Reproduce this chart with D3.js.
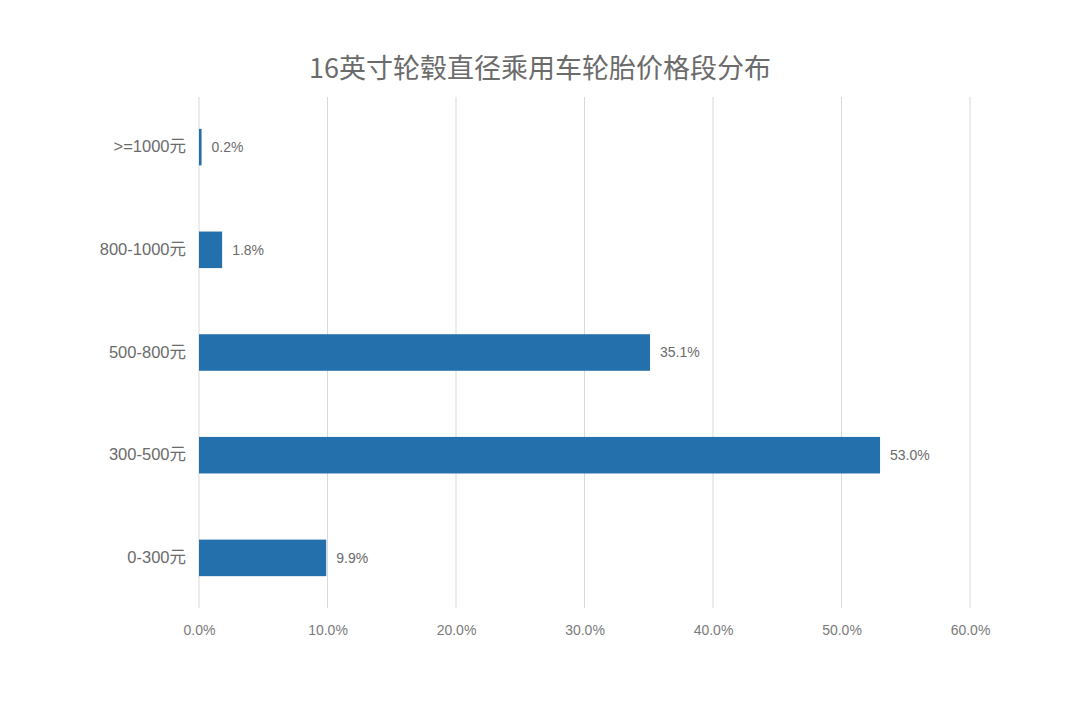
<!DOCTYPE html>
<html>
<head>
<meta charset="utf-8">
<script src="https://cdn.jsdelivr.net/npm/d3@7"></script>
<style>
  body { margin: 0; background: #fff; }
  text { font-family: "Liberation Sans", "Noto Sans CJK SC", sans-serif; }
</style>
</head>
<body>
<svg id="chart"></svg>
<script>
const categories = [">=1000元", "800-1000元", "500-800元", "300-500元", "0-300元"];
const shares = [0.2, 1.8, 35.1, 53.0, 9.9];
const tickValues = [0, 10, 20, 30, 40, 50, 60];
const title = "16英寸轮毂直径乘用车轮胎价格段分布";

const W = 1080, H = 704;
const margin = { top: 97, right: 110, bottom: 96, left: 199 };
const width = W - margin.left - margin.right;
const height = H - margin.top - margin.bottom;

const svg = d3.select("#chart")
  .attr("width", W)
  .attr("height", H);

// title
svg.append("text")
  .attr("x", W / 2)
  .attr("y", 78)
  .attr("text-anchor", "middle")
  .style("font-family", "'Noto Sans CJK SC', sans-serif")
  .style("font-size", "27px")
  .style("fill", "#6b6b6b")
  .text(title);

const g = svg.append("g")
  .attr("transform", `translate(${margin.left},${margin.top})`);

const x = d3.scaleLinear().domain([0, 60]).range([0, width]);
const y = d3.scaleBand().domain(categories).range([0, height]).paddingInner(0.644).paddingOuter(0.31);

// gridlines
g.append("g")
  .selectAll("line")
  .data(tickValues)
  .enter().append("line")
  .attr("x1", d => x(d))
  .attr("x2", d => x(d))
  .attr("y1", 0)
  .attr("y2", height)
  .attr("stroke", "#d9d9d9")
  .attr("stroke-width", 1);

// x axis labels
const xAxis = g.append("g")
  .attr("transform", `translate(0,${height})`)
  .call(d3.axisBottom(x).tickValues(tickValues).tickSize(0).tickPadding(17)
    .tickFormat(d => d.toFixed(1) + "%"));
xAxis.select(".domain").remove();
xAxis.selectAll("text")
  .style("font-family", "'Liberation Sans', sans-serif")
  .style("font-size", "14px")
  .style("fill", "#7a7a7a");

// y axis labels
const yAxis = g.append("g")
  .call(d3.axisLeft(y).tickSize(0).tickPadding(13));
yAxis.select(".domain").remove();
yAxis.selectAll("text")
  .style("font-family", "'Liberation Sans', 'Noto Sans CJK SC', sans-serif")
  .style("font-size", "16.5px")
  .style("fill", "#6b6b6b");

// bars
g.selectAll(".bar")
  .data(categories)
  .enter().append("rect")
  .attr("class", "bar")
  .attr("x", x(0))
  .attr("y", d => y(d))
  .attr("width", (d, i) => x(shares[i]) - x(0))
  .attr("height", y.bandwidth())
  .attr("fill", "#2470ad");

// value labels
g.selectAll(".val")
  .data(categories)
  .enter().append("text")
  .attr("class", "val")
  .attr("x", (d, i) => x(shares[i]) + 10)
  .attr("y", d => y(d) + y.bandwidth() / 2)
  .attr("dy", "0.35em")
  .style("font-size", "14px")
  .style("fill", "#6b6b6b")
  .text((d, i) => shares[i].toFixed(1) + "%");
</script>
</body>
</html>
